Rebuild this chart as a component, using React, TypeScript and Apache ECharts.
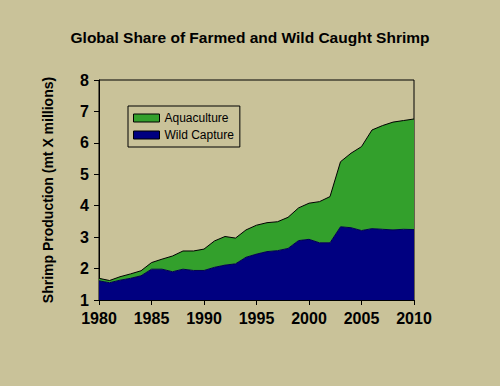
import React, { useEffect, useRef } from "react";
import * as echarts from "echarts";

const years = [
  "1980","1981","1982","1983","1984","1985","1986","1987","1988","1989",
  "1990","1991","1992","1993","1994","1995","1996","1997","1998","1999",
  "2000","2001","2002","2003","2004","2005","2006","2007","2008","2009","2010",
];
const wildCapture = [
  1.61, 1.55, 1.63, 1.69, 1.77, 1.98, 1.98, 1.9, 1.98, 1.94,
  1.94, 2.04, 2.11, 2.15, 2.36, 2.46, 2.54, 2.57, 2.64, 2.89,
  2.93, 2.82, 2.82, 3.33, 3.3, 3.21, 3.27, 3.25, 3.23, 3.25, 3.24,
];
const totalProduction = [
  1.69, 1.62, 1.74, 1.83, 1.93, 2.19, 2.3, 2.4, 2.56, 2.56,
  2.62, 2.88, 3.02, 2.97, 3.23, 3.38, 3.46, 3.49, 3.63, 3.93,
  4.08, 4.13, 4.29, 5.4, 5.67, 5.88, 6.41, 6.55, 6.66, 6.71, 6.76,
];
const aquaculture = totalProduction.map((t, i) => +(t - wildCapture[i]).toFixed(2));

export default function App() {
  const ref = useRef<HTMLDivElement>(null);
  useEffect(() => {
    if (!ref.current) return;
    const chart = echarts.init(ref.current, null, { renderer: "svg" });
    const font = "Liberation Sans, Arial, sans-serif";
    chart.setOption({
      animation: false,
      backgroundColor: "#C9C299",
      textStyle: { fontFamily: font },
      title: {
        text: "Global Share of Farmed and Wild Caught Shrimp",
        left: "center",
        top: 24,
        textStyle: { fontSize: 15.5, fontWeight: "bold", color: "#000", fontFamily: font },
      },
      legend: {
        orient: "vertical",
        left: 128,
        top: 106,
        padding: [6, 6, 6, 5],
        itemGap: 5,
        itemWidth: 26,
        itemHeight: 8,
        icon: "rect",
        borderColor: "#000",
        borderWidth: 1,
        data: [
          { name: "Aquaculture", itemStyle: { color: "#33A02C", borderColor: "#000", borderWidth: 1 } },
          { name: "Wild Capture", itemStyle: { color: "#000080", borderColor: "#000", borderWidth: 1 } },
        ],
        textStyle: { fontSize: 12, color: "#000", fontFamily: font },
      },
      grid: { left: 99, right: 86, top: 80, bottom: 86, show: true, borderColor: "#000", borderWidth: 1 },
      xAxis: {
        type: "category",
        data: years,
        boundaryGap: false,
        axisLine: { lineStyle: { color: "#000" } },
        axisTick: { interval: 4, alignWithLabel: true, length: 5, lineStyle: { color: "#000" } },
        axisLabel: { interval: 4, fontSize: 16, fontWeight: "bold", color: "#000", margin: 10, fontFamily: font },
        splitLine: { show: false },
      },
      yAxis: {
        type: "value",
        min: 1,
        max: 8,
        interval: 1,
        name: "Shrimp Production (mt X millions)",
        nameLocation: "middle",
        nameGap: 44,
        nameTextStyle: { fontSize: 14, fontWeight: "bold", color: "#000", fontFamily: font },
        axisLine: { show: true, lineStyle: { color: "#000" } },
        axisTick: { show: true, length: 5, lineStyle: { color: "#000" } },
        axisLabel: { fontSize: 16, fontWeight: "bold", color: "#000", margin: 10, fontFamily: font },
        splitLine: { show: false },
      },
      series: [
        {
          name: "Wild Capture",
          type: "line",
          stack: "total",
          data: wildCapture,
          symbol: "none",
          lineStyle: { color: "#000050", width: 1 },
          itemStyle: { color: "#000080" },
          areaStyle: { color: "#000080", opacity: 1 },
        },
        {
          name: "Aquaculture",
          type: "line",
          stack: "total",
          data: aquaculture,
          symbol: "none",
          lineStyle: { color: "#000", width: 1 },
          itemStyle: { color: "#33A02C" },
          areaStyle: { color: "#33A02C", opacity: 1 },
        },
      ],
    });
    return () => chart.dispose();
  }, []);
  return <div ref={ref} style={{ width: 500, height: 386, position: "absolute", left: 0, top: 0 }} />;
}
